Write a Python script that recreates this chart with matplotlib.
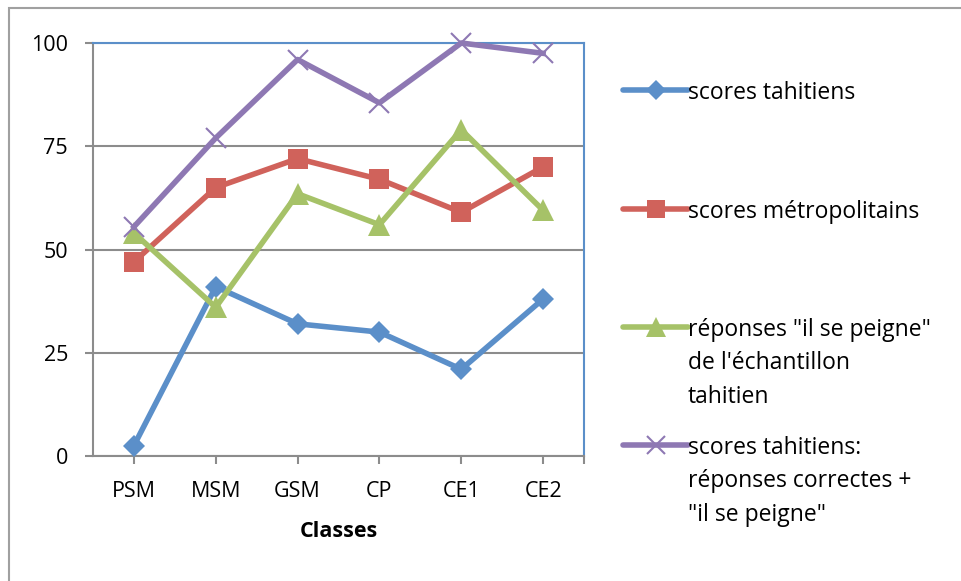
import matplotlib.pyplot as plt
from matplotlib.lines import Line2D
from matplotlib.patches import Rectangle

plt.rcParams['font.family'] = ['Open Sans', 'DejaVu Sans']

classes = ['PSM', 'MSM', 'GSM', 'CP', 'CE1', 'CE2']
scores_tahitiens = [2.5, 41, 32, 30, 21, 38]
scores_metro = [47, 65, 72, 67, 59, 70]
reponses_peigne = [54, 36, 63.5, 56, 79, 59.5]
scores_total = [55.5, 77, 96, 85.5, 100, 97.5]

labels = ['scores tahitiens',
          'scores métropolitains',
          'réponses "il se peigne"\nde l\'échantillon\ntahitien',
          'scores tahitiens:\nréponses correctes +\n"il se peigne"']
colors = ['#5b8fc9', '#d0625b', '#a6c268', '#8e78b3']
markers = ['D', 's', '^', 'x']
msizes = [11, 14, 16, 14]
series = [scores_tahitiens, scores_metro, reponses_peigne, scores_total]

W, H = 962, 581
fig = plt.figure(figsize=(9.62, 5.81), dpi=100)
ax = fig.add_axes([93 / W, 1 - 456 / H, (584 - 93) / W, (456 - 43) / H])

# outer chart frame
fig.add_artist(Rectangle((9 / W, -0.1), 1.2, 1 - 8 / H + 0.1, transform=fig.transFigure,
                         fill=False, edgecolor='#a0a0a0', linewidth=1.5))

x = list(range(len(classes)))
for vals, c, m, ms in zip(series, colors, markers, msizes):
    ax.plot(x, vals, color=c, linewidth=4, marker=m, markersize=ms,
            markeredgewidth=1.5 if m == 'x' else 0, markeredgecolor=c, clip_on=False, zorder=3)

ax.set_xlim(-0.5, 5.5)
ax.set_ylim(0, 100)
ax.set_yticks([0, 25, 50, 75, 100])
ax.set_xticks(x)
ax.set_xticks([5.5], minor=True)
ax.set_xticklabels(classes)
ax.tick_params(axis='both', labelsize=15.5, color='#8c8c8c', width=1.5, length=6, direction='out')
ax.tick_params(axis='x', which='minor', color='#8c8c8c', width=1.5, length=6)
ax.tick_params(axis='x', pad=12)
ax.tick_params(axis='y', pad=12)
ax.yaxis.grid(True, color='#8c8c8c', linewidth=1.5)
ax.set_axisbelow(True)

for s in ['left', 'bottom']:
    ax.spines[s].set_color('#8c8c8c')
    ax.spines[s].set_linewidth(1.5)
for s in ['top', 'right']:
    ax.spines[s].set_color('#5b8fc9')
    ax.spines[s].set_linewidth(1.5)

ax.set_xlabel('Classes', fontsize=15.5, fontweight='bold', labelpad=14)

# legend drawn manually to keep Excel-like spacing
leg_y = [90, 209, 327, 445]
for yy, lab, c, m, ms in zip(leg_y, labels, colors, markers, msizes):
    fy = 1 - yy / H
    fig.add_artist(Line2D([623 / W, 688 / W], [fy, fy], transform=fig.transFigure,
                          color=c, linewidth=4, solid_capstyle='round'))
    fig.add_artist(Line2D([656 / W], [fy], transform=fig.transFigure, color=c, marker=m,
                          markersize=ms * 0.9, markeredgewidth=1.5 if m == 'x' else 0,
                          markeredgecolor=c))
    fig.text(688 / W, 1 - (yy - 9) / H, lab, fontsize=16.5, va='top', ha='left',
             linespacing=1.52)

fig.savefig('out.png', dpi=100)
